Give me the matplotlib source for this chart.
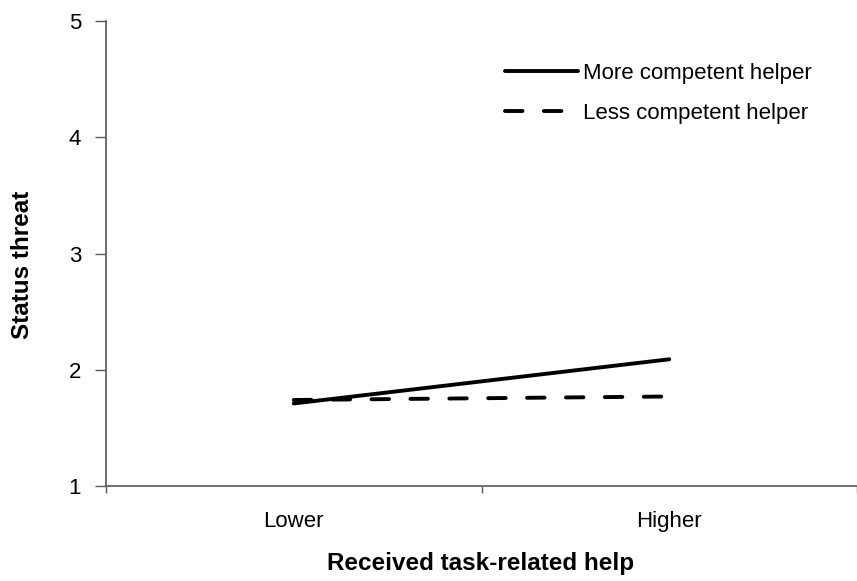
import matplotlib
matplotlib.use('Agg')
import matplotlib.pyplot as plt

# Data
categories = ['Lower', 'Higher']
more_competent = [1.71, 2.09]
less_competent = [1.74, 1.77]
series_labels = ['More competent helper', 'Less competent helper']

plt.rcParams['font.family'] = ['Liberation Sans', 'DejaVu Sans']
fs = 16

fig = plt.figure(figsize=(8.57, 5.81), dpi=100)
ax = fig.add_axes([106 / 857, 1 - 486 / 581, 1 - 106 / 857, (486 - 21) / 581])

xpos = [0.5, 1.5]
ax.plot(xpos, more_competent, color='black', linewidth=2.8,
        solid_capstyle='round', label=series_labels[0])
ax.plot(xpos, less_competent, color='black', linewidth=2.8,
        linestyle=(0, (4.5, 5.5)), dash_capstyle='round', label=series_labels[1])

ax.set_xlim(0, 2)
ax.set_ylim(1, 5)
ax.set_yticks([1, 2, 3, 4, 5])
ax.set_xticks([0, 1, 2])
ax.set_xticklabels([])
ax.set_xticks(xpos, minor=True)
ax.set_xticklabels(categories, minor=True)
ax.tick_params(axis='x', which='minor', length=0, pad=18, labelsize=fs)
ax.tick_params(axis='x', which='major', length=5, width=1, color='#595959')
ax.tick_params(axis='y', length=8, width=1, color='#595959', pad=10, labelsize=fs)

for s in ['top', 'right']:
    ax.spines[s].set_visible(False)
for s in ['left', 'bottom']:
    ax.spines[s].set_color('#595959')
    ax.spines[s].set_linewidth(1.2)

# axis titles placed in figure pixels
fig.text(23 / 857, 1 - 265 / 581, 'Status threat', rotation=90, ha='center',
         va='center', fontsize=17.5, fontweight='bold')
fig.text(481 / 857, 1 - 570 / 581, 'Received task-related help', ha='center',
         va='baseline', fontsize=17.5, fontweight='bold')

ax.legend(loc='upper left', bbox_to_anchor=(505 / 857, 1 - 63 / 581),
          bbox_transform=fig.transFigure, frameon=False, fontsize=fs,
          handlelength=3.3, handletextpad=0.2, labelspacing=0.84,
          borderpad=0, borderaxespad=0)

fig.savefig('out.png', dpi=100)
